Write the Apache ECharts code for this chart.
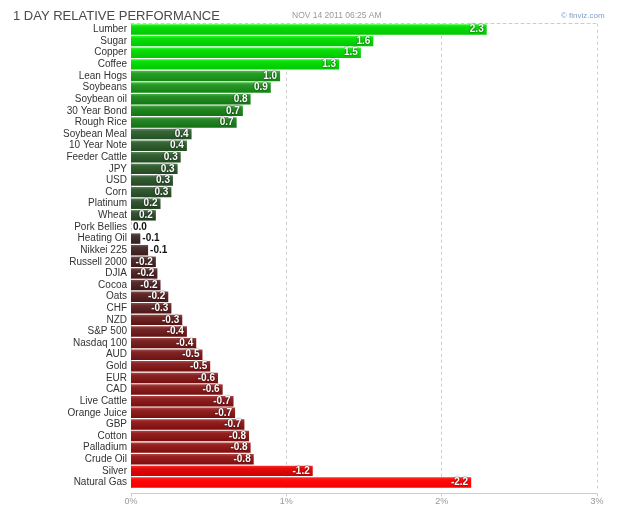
<!DOCTYPE html>
<html>
<head>
    <meta charset="UTF-8">
    <title>1 Day Relative Performance</title>
    <script src="https://cdn.jsdelivr.net/npm/echarts@6/dist/echarts.min.js"></script>
    <style>
        html, body { margin: 0; padding: 0; background: #fff; }
        #chart { width: 625px; height: 513px; }
    </style>
</head>
<body>
    <div id="chart"></div>
    <script>
        // 数据
        var names = ['Lumber', 'Sugar', 'Copper', 'Coffee', 'Lean Hogs', 'Soybeans', 'Soybean oil',
            '30 Year Bond', 'Rough Rice', 'Soybean Meal', '10 Year Note', 'Feeder Cattle', 'JPY', 'USD',
            'Corn', 'Platinum', 'Wheat', 'Pork Bellies', 'Heating Oil', 'Nikkei 225', 'Russell 2000',
            'DJIA', 'Cocoa', 'Oats', 'CHF', 'NZD', 'S&P 500', 'Nasdaq 100', 'AUD', 'Gold', 'EUR', 'CAD',
            'Live Cattle', 'Orange Juice', 'GBP', 'Cotton', 'Palladium', 'Crude Oil', 'Silver', 'Natural Gas'];
        var values = [2.29, 1.56, 1.48, 1.34, 0.96, 0.90, 0.77, 0.72, 0.68, 0.39, 0.36, 0.32, 0.30, 0.27,
            0.26, 0.19, 0.16, 0.0, -0.06, -0.11, -0.16, -0.17, -0.19, -0.24, -0.26, -0.33, -0.36, -0.42,
            -0.46, -0.51, -0.56, -0.59, -0.66, -0.67, -0.73, -0.76, -0.77, -0.79, -1.17, -2.19];
        var ticks = [0, 1, 2, 3];

        var font = '"Liberation Sans", Arial, sans-serif';

        // 颜色: 按数值插值
        var stops = [
            [-2.2, [255, 0, 0]], [-1.2, [222, 0, 0]], [-0.8, [140, 22, 22]], [-0.5, [125, 26, 26]],
            [-0.3, [100, 30, 30]], [-0.2, [78, 34, 34]], [-0.05, [60, 40, 40]], [0, [45, 55, 45]],
            [0.2, [44, 78, 44]], [0.4, [44, 92, 44]], [0.7, [28, 125, 28]], [1.0, [30, 150, 30]],
            [1.3, [0, 210, 0]], [2.3, [0, 210, 0]]
        ];
        function baseColor(v) {
            if (v <= stops[0][0]) return stops[0][1];
            for (var i = 1; i < stops.length; i++) {
                if (v <= stops[i][0]) {
                    var a = stops[i - 1], b = stops[i];
                    var t = (v - a[0]) / (b[0] - a[0]);
                    return [0, 1, 2].map(function (k) { return Math.round(a[1][k] + (b[1][k] - a[1][k]) * t); });
                }
            }
            return stops[stops.length - 1][1];
        }
        function rgb(c, d) {
            return 'rgb(' + c.map(function (x) { return Math.max(0, Math.min(255, x + d)); }).join(',') + ')';
        }

        var barData = values.map(function (v) {
            var c = baseColor(v);
            var small = Math.abs(v) < 0.15;
            return {
                value: Math.abs(v),
                raw: v,
                itemStyle: {
                    color: new echarts.graphic.LinearGradient(0, 0, 0, 1, [
                        { offset: 0, color: rgb(c, 45) },
                        { offset: 0.25, color: rgb(c, 10) },
                        { offset: 1, color: rgb(c, -10) }
                    ])
                },
                label: small ? {
                    position: 'right', distance: 2, color: '#111',
                    textShadowBlur: 0, textBorderWidth: 0
                } : {}
            };
        });

        var option = {
            animation: false,
            title: [
                { text: '1 DAY RELATIVE PERFORMANCE', left: 8, top: 5,
                  textStyle: { fontSize: 13, fontWeight: 'normal', color: '#4a4a4a', fontFamily: font } },
                { text: 'NOV 14 2011 06:25 AM', left: 287, top: 6,
                  textStyle: { fontSize: 8.5, fontWeight: 'normal', color: '#999', fontFamily: font } },
                { text: '© finviz.com', left: 556, top: 7,
                  textStyle: { fontSize: 8, fontWeight: 'normal', color: '#7f9fc8', fontFamily: font } }
            ],
            grid: { left: 131, right: 28, top: 23.7, height: 464.6, containLabel: false },
            xAxis: [{
                type: 'value', min: 0, max: 3, interval: 1, offset: 5,
                axisLine: { show: true, lineStyle: { color: '#ccc' } },
                axisTick: { show: true, length: 3, lineStyle: { color: '#ccc' } },
                axisLabel: {
                    color: '#999', fontSize: 9, margin: 4, fontFamily: font,
                    formatter: function (v) { return ticks.indexOf(v) >= 0 ? v + '%' : ''; }
                },
                splitLine: { show: true, lineStyle: { color: '#ccc', type: [3, 3] } }
            }, {
                type: 'value', min: 0, max: 3, interval: 1, position: 'top',
                axisLine: { show: true, lineStyle: { color: '#ccc', type: [3, 3] } },
                axisTick: { show: false }, axisLabel: { show: false }, splitLine: { show: false }
            }],
            yAxis: {
                type: 'category', data: names, inverse: true,
                axisLine: { show: false }, axisTick: { show: false },
                axisLabel: { interval: 0, color: '#333', fontSize: 10, margin: 4, fontFamily: font }
            },
            series: [{
                type: 'bar', data: barData, barCategoryGap: '10%', xAxisIndex: 0,
                label: {
                    show: true, position: 'insideRight', distance: 3,
                    color: '#fff', fontSize: 10, fontWeight: 'bold', fontFamily: font,
                    textShadowColor: 'rgba(0,0,0,0.8)', textShadowBlur: 2,
                    formatter: function (p) { return p.data.raw.toFixed(1); }
                }
            }]
        };

        var myChart = echarts.init(document.getElementById('chart'));
        myChart.setOption(option);
    </script>
</body>
</html>
